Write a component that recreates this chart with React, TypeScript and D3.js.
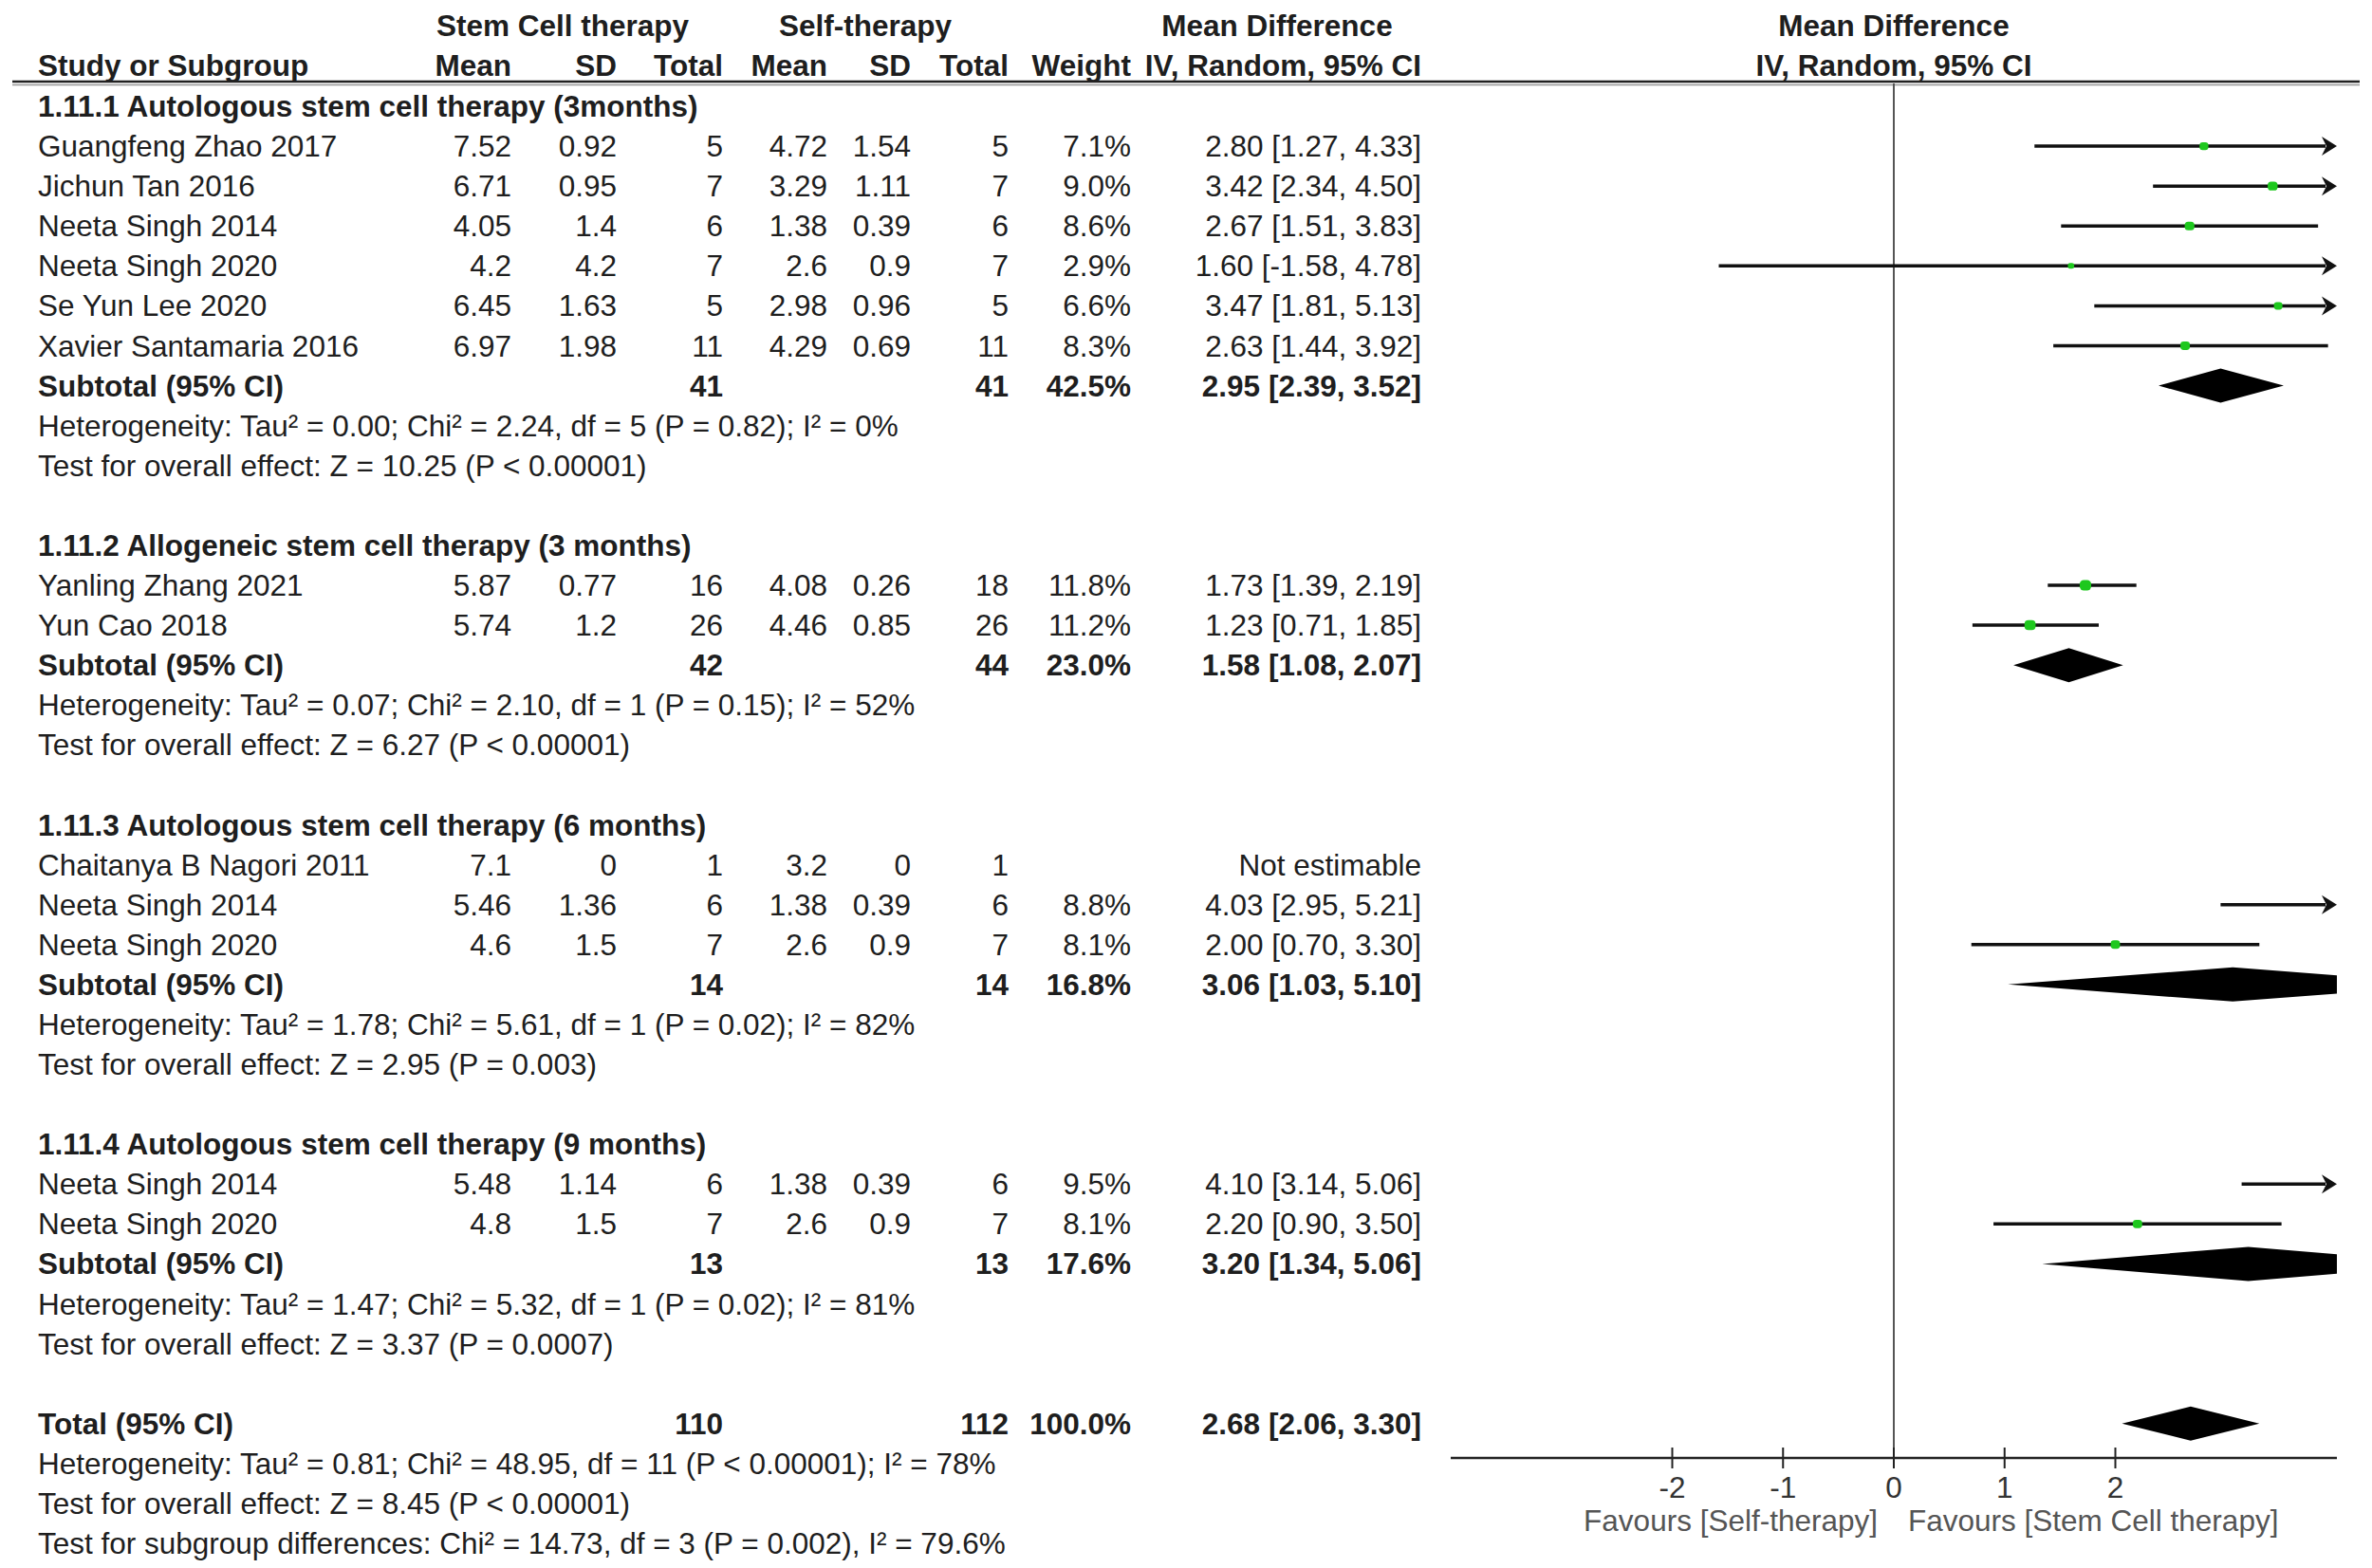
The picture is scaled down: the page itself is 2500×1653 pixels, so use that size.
import React from "react";
import * as d3 from "d3";

// ---------- Data ----------
const groupTitles = [
  "1.11.1 Autologous stem cell therapy (3months)",
  "1.11.2 Allogeneic stem cell therapy (3 months)",
  "1.11.3 Autologous stem cell therapy (6 months)",
  "1.11.4 Autologous stem cell therapy (9 months)",
];
const studyGroup = [0, 0, 0, 0, 0, 0, 1, 1, 2, 2, 2, 3, 3];
const studyNames = [
  "Guangfeng Zhao 2017", "Jichun Tan 2016", "Neeta Singh 2014", "Neeta Singh 2020",
  "Se Yun Lee 2020", "Xavier Santamaria 2016",
  "Yanling Zhang 2021", "Yun Cao 2018",
  "Chaitanya B Nagori 2011", "Neeta Singh 2014", "Neeta Singh 2020",
  "Neeta Singh 2014", "Neeta Singh 2020",
];
const stemMeans = ["7.52", "6.71", "4.05", "4.2", "6.45", "6.97", "5.87", "5.74", "7.1", "5.46", "4.6", "5.48", "4.8"];
const stemSDs = ["0.92", "0.95", "1.4", "4.2", "1.63", "1.98", "0.77", "1.2", "0", "1.36", "1.5", "1.14", "1.5"];
const stemTotals = [5, 7, 6, 7, 5, 11, 16, 26, 1, 6, 7, 6, 7];
const selfMeans = ["4.72", "3.29", "1.38", "2.6", "2.98", "4.29", "4.08", "4.46", "3.2", "1.38", "2.6", "1.38", "2.6"];
const selfSDs = ["1.54", "1.11", "0.39", "0.9", "0.96", "0.69", "0.26", "0.85", "0", "0.39", "0.9", "0.39", "0.9"];
const selfTotals = [5, 7, 6, 7, 5, 11, 18, 26, 1, 6, 7, 6, 7];
const weights = [7.1, 9.0, 8.6, 2.9, 6.6, 8.3, 11.8, 11.2, null, 8.8, 8.1, 9.5, 8.1];
const mdValues = [2.8, 3.42, 2.67, 1.6, 3.47, 2.63, 1.73, 1.23, null, 4.03, 2.0, 4.1, 2.2];
const ciLow = [1.27, 2.34, 1.51, -1.58, 1.81, 1.44, 1.39, 0.71, null, 2.95, 0.7, 3.14, 0.9];
const ciHigh = [4.33, 4.5, 3.83, 4.78, 5.13, 3.92, 2.19, 1.85, null, 5.21, 3.3, 5.06, 3.5];

const subStemTotals = [41, 42, 14, 13];
const subSelfTotals = [41, 44, 14, 13];
const subWeights = [42.5, 23.0, 16.8, 17.6];
const subMD = [2.95, 1.58, 3.06, 3.2];
const subLow = [2.39, 1.08, 1.03, 1.34];
const subHigh = [3.52, 2.07, 5.1, 5.06];
const heterogeneityTexts = [
  "Heterogeneity: Tau² = 0.00; Chi² = 2.24, df = 5 (P = 0.82); I² = 0%",
  "Heterogeneity: Tau² = 0.07; Chi² = 2.10, df = 1 (P = 0.15); I² = 52%",
  "Heterogeneity: Tau² = 1.78; Chi² = 5.61, df = 1 (P = 0.02); I² = 82%",
  "Heterogeneity: Tau² = 1.47; Chi² = 5.32, df = 1 (P = 0.02); I² = 81%",
];
const overallTexts = [
  "Test for overall effect: Z = 10.25 (P < 0.00001)",
  "Test for overall effect: Z = 6.27 (P < 0.00001)",
  "Test for overall effect: Z = 2.95 (P = 0.003)",
  "Test for overall effect: Z = 3.37 (P = 0.0007)",
];
const totalStem = 110;
const totalSelf = 112;
const totalWeight = 100.0;
const totalMD = 2.68;
const totalLow = 2.06;
const totalHigh = 3.3;
const totalFooter = [
  "Heterogeneity: Tau² = 0.81; Chi² = 48.95, df = 11 (P < 0.00001); I² = 78%",
  "Test for overall effect: Z = 8.45 (P < 0.00001)",
  "Test for subgroup differences: Chi² = 14.73, df = 3 (P = 0.002), I² = 79.6%",
];
const axisTicks = [-2, -1, 0, 1, 2];
const axisDomain = [-4, 4];
const favoursLeft = "Favours [Self-therapy]";
const favoursRight = "Favours [Stem Cell therapy]";

// ---------- Layout ----------
const W = 2500;
const H = 1653;
const FONT = "'Liberation Sans', Arial, sans-serif";
const FS = 31.5;
const TXT = "#1e1e1e";

const col = {
  study: 40,
  stemMean: 539,
  stemSD: 650,
  stemTotal: 762,
  selfMean: 872,
  selfSD: 960,
  selfTotal: 1063,
  weight: 1192,
  ci: 1498,
};

const locale = d3.formatLocale({ decimal: ".", thousands: ",", grouping: [3], currency: ["", ""], minus: "-" });
const fmt2 = locale.format(".2f");
const fmtW = locale.format(".1f");
const ciText = (m: number, l: number, h: number) => `${fmt2(m)} [${fmt2(l)}, ${fmt2(h)}]`;

type Row =
  | { kind: "heading"; g: number }
  | { kind: "study"; i: number }
  | { kind: "subtotal"; g: number }
  | { kind: "het"; text: string }
  | { kind: "blank" }
  | { kind: "total" };

function buildRows(): Row[] {
  const rows: Row[] = [];
  groupTitles.forEach((_, g) => {
    rows.push({ kind: "heading", g });
    studyGroup.forEach((sg, i) => {
      if (sg === g) rows.push({ kind: "study", i });
    });
    rows.push({ kind: "subtotal", g });
    rows.push({ kind: "het", text: heterogeneityTexts[g] });
    rows.push({ kind: "het", text: overallTexts[g] });
    rows.push({ kind: "blank" });
  });
  rows.push({ kind: "total" });
  totalFooter.forEach((t) => rows.push({ kind: "het", text: t }));
  return rows;
}

export default function App() {
  const rows = buildRows();
  const y = d3.scaleLinear().domain([0, rows.length - 1]).range([112, 1627]);
  const x = d3.scaleLinear().domain(axisDomain).range([1529, 2463]);
  const plotTop = 88;
  const axisY = 1537;
  const xMin = x(axisDomain[0]);
  const xMax = x(axisDomain[1]);

  const T = (props: any) => (
    <text
      fontFamily={FONT}
      fontSize={FS}
      fill={TXT}
      dominantBaseline="central"
      {...props}
    />
  );

  const ciMark = (yy: number, md: number, lo: number, hi: number, w: number, key: string) => {
    const loC = Math.max(lo, axisDomain[0]);
    const hiC = Math.min(hi, axisDomain[1]);
    const arrowR = hi > axisDomain[1];
    const arrowL = lo < axisDomain[0];
    const tip = x(axisDomain[1]);
    const x1 = arrowL ? x(axisDomain[0]) + 12 : x(loC);
    const x2 = arrowR ? tip - 12 : x(hiC);
    const s = 5 + w * 0.6;
    const inRange = md >= axisDomain[0] && md <= axisDomain[1];
    return (
      <g key={key}>
        <line x1={x1} x2={x2} y1={yy} y2={yy} stroke="#111" strokeWidth={3.5} />
        {arrowR && (
          <path
            d={`M${tip},${yy} L${tip - 16},${yy - 10} L${tip - 11},${yy} L${tip - 16},${yy + 10} Z`}
            fill="#111"
          />
        )}
        {inRange && (
          <rect x={x(md) - s / 2} y={yy - s * 0.45} width={s} height={s * 0.9} rx={s * 0.35} fill="#1ec81e" />
        )}
      </g>
    );
  };

  const diamond = (yy: number, md: number, lo: number, hi: number, key: string) => {
    const h = 18;
    const pts: [number, number][] = [
      [x(lo), yy],
      [x(md), yy - h],
      [x(hi), yy],
      [x(md), yy + h],
    ];
    return <path key={key} d={d3.line()(pts.concat([pts[0]])) as string} fill="#000" clipPath="url(#plotClip)" />;
  };

  const elements: React.ReactNode[] = [];
  rows.forEach((r, idx) => {
    const yy = y(idx);
    if (r.kind === "heading") {
      elements.push(
        <T key={`h${idx}`} x={col.study} y={yy} fontWeight="bold">
          {groupTitles[r.g]}
        </T>
      );
    } else if (r.kind === "study") {
      const i = r.i;
      elements.push(
        <g key={`s${idx}`}>
          <T x={col.study} y={yy}>{studyNames[i]}</T>
          <T x={col.stemMean} y={yy} textAnchor="end">{stemMeans[i]}</T>
          <T x={col.stemSD} y={yy} textAnchor="end">{stemSDs[i]}</T>
          <T x={col.stemTotal} y={yy} textAnchor="end">{stemTotals[i]}</T>
          <T x={col.selfMean} y={yy} textAnchor="end">{selfMeans[i]}</T>
          <T x={col.selfSD} y={yy} textAnchor="end">{selfSDs[i]}</T>
          <T x={col.selfTotal} y={yy} textAnchor="end">{selfTotals[i]}</T>
          {weights[i] != null && (
            <T x={col.weight} y={yy} textAnchor="end">{fmtW(weights[i] as number)}%</T>
          )}
          <T x={col.ci} y={yy} textAnchor="end">
            {mdValues[i] != null
              ? ciText(mdValues[i] as number, ciLow[i] as number, ciHigh[i] as number)
              : "Not estimable"}
          </T>
        </g>
      );
      if (mdValues[i] != null) {
        elements.push(
          ciMark(yy, mdValues[i] as number, ciLow[i] as number, ciHigh[i] as number, weights[i] as number, `m${idx}`)
        );
      }
    } else if (r.kind === "subtotal") {
      const g = r.g;
      elements.push(
        <g key={`st${idx}`}>
          <T x={col.study} y={yy} fontWeight="bold">Subtotal (95% CI)</T>
          <T x={col.stemTotal} y={yy} textAnchor="end" fontWeight="bold">{subStemTotals[g]}</T>
          <T x={col.selfTotal} y={yy} textAnchor="end" fontWeight="bold">{subSelfTotals[g]}</T>
          <T x={col.weight} y={yy} textAnchor="end" fontWeight="bold">{fmtW(subWeights[g])}%</T>
          <T x={col.ci} y={yy} textAnchor="end" fontWeight="bold">{ciText(subMD[g], subLow[g], subHigh[g])}</T>
        </g>
      );
      elements.push(diamond(yy, subMD[g], subLow[g], subHigh[g], `d${idx}`));
    } else if (r.kind === "het") {
      elements.push(
        <T key={`t${idx}`} x={col.study} y={yy}>{r.text}</T>
      );
    } else if (r.kind === "total") {
      elements.push(
        <g key={`tot${idx}`}>
          <T x={col.study} y={yy} fontWeight="bold">Total (95% CI)</T>
          <T x={col.stemTotal} y={yy} textAnchor="end" fontWeight="bold">{totalStem}</T>
          <T x={col.selfTotal} y={yy} textAnchor="end" fontWeight="bold">{totalSelf}</T>
          <T x={col.weight} y={yy} textAnchor="end" fontWeight="bold">{fmtW(totalWeight)}%</T>
          <T x={col.ci} y={yy} textAnchor="end" fontWeight="bold">{ciText(totalMD, totalLow, totalHigh)}</T>
        </g>
      );
      elements.push(diamond(yy, totalMD, totalLow, totalHigh, `dt${idx}`));
    }
  });

  const zeroX = x(0);

  return (
    <svg width={W} height={H} style={{ display: "block", position: "absolute", left: 0, top: 0, background: "#fff" }}>
      <defs>
        <clipPath id="plotClip">
          <rect x={xMin} y={0} width={xMax - xMin} height={H} />
        </clipPath>
      </defs>
      <rect x={0} y={0} width={W} height={H} fill="#fff" />

      {/* Header */}
      <T x={593} y={27} textAnchor="middle" fontWeight="bold">Stem Cell therapy</T>
      <T x={912} y={27} textAnchor="middle" fontWeight="bold">Self-therapy</T>
      <T x={1346} y={27} textAnchor="middle" fontWeight="bold">Mean Difference</T>
      <T x={zeroX} y={27} textAnchor="middle" fontWeight="bold">Mean Difference</T>

      <T x={col.study} y={69} fontWeight="bold">Study or Subgroup</T>
      <T x={col.stemMean} y={69} textAnchor="end" fontWeight="bold">Mean</T>
      <T x={col.stemSD} y={69} textAnchor="end" fontWeight="bold">SD</T>
      <T x={col.stemTotal} y={69} textAnchor="end" fontWeight="bold">Total</T>
      <T x={col.selfMean} y={69} textAnchor="end" fontWeight="bold">Mean</T>
      <T x={col.selfSD} y={69} textAnchor="end" fontWeight="bold">SD</T>
      <T x={col.selfTotal} y={69} textAnchor="end" fontWeight="bold">Total</T>
      <T x={col.weight} y={69} textAnchor="end" fontWeight="bold">Weight</T>
      <T x={col.ci} y={69} textAnchor="end" fontWeight="bold">IV, Random, 95% CI</T>
      <T x={zeroX} y={69} textAnchor="middle" fontWeight="bold">IV, Random, 95% CI</T>

      <line x1={13} x2={2487} y1={86} y2={86} stroke="#222" strokeWidth={2.5} />
      <line x1={13} x2={2487} y1={89.5} y2={89.5} stroke="#999" strokeWidth={1.5} />

      {/* zero line */}
      <line x1={zeroX} x2={zeroX} y1={plotTop} y2={axisY} stroke="#555" strokeWidth={2} />

      {elements}

      {/* axis */}
      <line x1={xMin} x2={xMax} y1={axisY} y2={axisY} stroke="#222" strokeWidth={2.5} />
      {axisTicks.map((t) => (
        <g key={`tick${t}`}>
          <line x1={x(t)} x2={x(t)} y1={axisY - 11} y2={axisY + 11} stroke="#222" strokeWidth={2} />
          <T x={x(t)} y={1568} textAnchor="middle" fill="#333">{locale.format("d")(t)}</T>
        </g>
      ))}
      <T x={zeroX - 17} y={1603} textAnchor="end" fill="#555">{favoursLeft}</T>
      <T x={zeroX + 15} y={1603} textAnchor="start" fill="#555">{favoursRight}</T>
    </svg>
  );
}
